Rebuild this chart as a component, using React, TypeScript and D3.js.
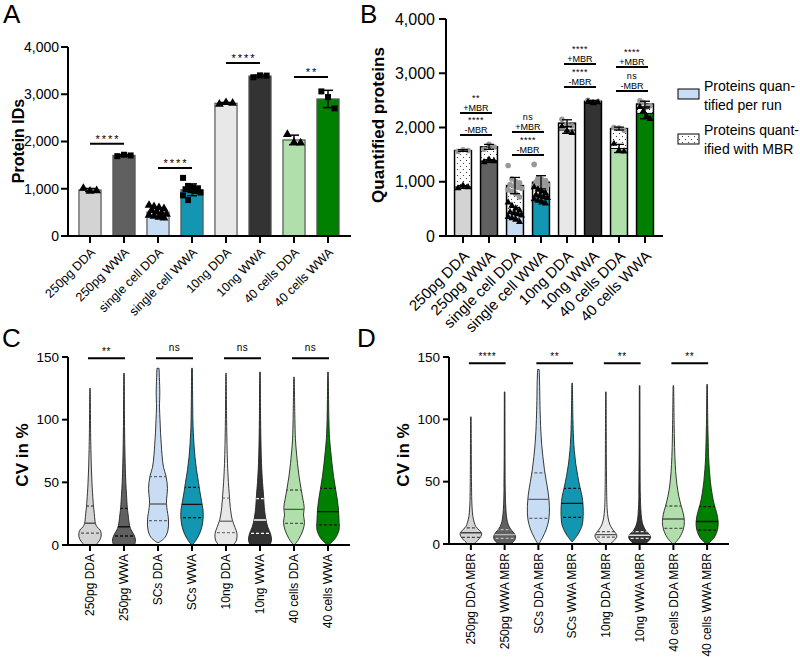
import React from 'react';
import * as d3 from 'd3';

const FONT = "'Liberation Sans', Arial, Helvetica, sans-serif";

// ---------- Panel A data ----------
const catsA = ['250pg DDA', '250pg WWA', 'single cell DDA', 'single cell WWA', '10ng DDA', '10ng WWA', '40 cells  DDA', '40 cells WWA'];
const fills = ['#d3d3d3', '#606060', '#c8dcf4', '#1296b2', '#e8e8e8', '#333333', '#b0dfab', '#008000'];
const ptsA_250pgDDA = [1010, 950, 960];
const ptsA_250pgWWA = [1690, 1720, 1705];
const ptsA_scDDA = [650, 620, 600, 580, 540, 510, 480, 460, 440, 420, 400, 380];
const ptsA_scWWA = [1230, 1060, 1030, 1010, 990, 970, 950, 920, 860, 760];
const ptsA_10ngDDA = [2790, 2825, 2810];
const ptsA_10ngWWA = [3360, 3400, 3395];
const ptsA_40DDA = [2150, 1980, 1970];
const ptsA_40WWA = [3060, 2940, 2700];
const pointsA = [ptsA_250pgDDA, ptsA_250pgWWA, ptsA_scDDA, ptsA_scWWA, ptsA_10ngDDA, ptsA_10ngWWA, ptsA_40DDA, ptsA_40WWA];
const ticksAB = [0, 1000, 2000, 3000, 4000];
const sigA = [
  { a: 0, b: 1, y: 1950, label: '****' },
  { a: 2, b: 3, y: 1440, label: '****' },
  { a: 4, b: 5, y: 3660, label: '****' },
  { a: 6, b: 7, y: 3365, label: '**' },
];

// ---------- Panel B data ----------
const catsB = ['250pg DDA', '250pg WWA', 'single cell DDA', 'single cell WWA', '10ng DDA', '10ng WWA', '40 cells DDA', '40 cells WWA'];
const totB_250pgDDA = [1560, 1590, 1575];
const runB_250pgDDA = [880, 930, 900];
const totB_250pgWWA = [1600, 1690, 1640];
const runB_250pgWWA = [1360, 1410, 1380];
const totB_scDDA = [1300, 1050, 1000, 980, 950, 920, 900, 880, 850, 820, 780, 720];
const runB_scDDA = [620, 560, 510, 470, 440, 420, 400, 380, 350, 330, 300, 260];
const totB_scWWA = [1320, 1060, 1040, 1020, 1000, 980, 960, 940, 920, 900, 880, 860];
const runB_scWWA = [900, 860, 820, 790, 760, 740, 720, 700, 680, 650, 620, 600];
const totB_10ngDDA = [2150, 2060, 2030];
const runB_10ngDDA = [2020, 1940, 1900];
const totB_10ngWWA = [2500, 2470, 2480];
const runB_10ngWWA = [2470, 2450, 2460];
const totB_40DDA = [2000, 1990, 1950];
const runB_40DDA = [1700, 1580, 1560];
const totB_40WWA = [2490, 2460, 2380, 2400];
const runB_40WWA = [2380, 2300, 2200, 2160];
const totalsB = [totB_250pgDDA, totB_250pgWWA, totB_scDDA, totB_scWWA, totB_10ngDDA, totB_10ngWWA, totB_40DDA, totB_40WWA];
const runsB = [runB_250pgDDA, runB_250pgWWA, runB_scDDA, runB_scWWA, runB_10ngDDA, runB_10ngWWA, runB_40DDA, runB_40WWA];
const sigB = [
  { a: 0, b: 1, plusY: 2267, plus: '**', minusY: 1862, minus: '****' },
  { a: 2, b: 3, plusY: 1917, plus: 'ns', minusY: 1493, minus: '****' },
  { a: 4, b: 5, plusY: 3170, plus: '****', minusY: 2746, minus: '****' },
  { a: 6, b: 7, plusY: 3115, plus: '****', minusY: 2673, minus: 'ns' },
];
const legendLines1 = ['Proteins quan-', 'tified per run'];
const legendLines2 = ['Proteins quant-', 'ified with MBR'];

// ---------- Panel C data (violin profiles: [CV %, half width]) ----------
const catsC = ['250pg DDA', '250pg WWA', 'SCs DDA', 'SCs WWA', '10ng DDA', '10ng WWA', '40 cells DDA', '40 cells WWA'];
const vC_250pgDDA = [[0, 6], [1.5, 7.5], [5, 10.5], [9, 11.2], [12, 10], [14.5, 7], [17, 5.5], [25, 4.3], [31, 3.5], [36, 3], [49, 2], [63, 1.3], [76, 0.9], [90, 0.6], [125, 0.3]];
const vC_250pgWWA = [[0, 10.5], [4, 11.5], [8, 10], [13, 6.5], [17, 5.3], [25, 4], [30, 3.3], [40, 2.5], [50, 1.8], [65, 1.2], [80, 0.8], [100, 0.5], [137, 0.3]];
const vC_scDDA = [[2, 0.8], [6, 7], [12, 10], [20, 10.5], [30, 8.8], [36, 8.5], [45, 9.5], [55, 8], [62, 5.5], [72, 4], [80, 3.3], [90, 2.5], [100, 2], [110, 1.5], [122, 1.8], [141, 1]];
const vC_scWWA = [[0, 0.3], [5, 5], [12, 9], [20, 11], [28, 11], [35, 9.5], [42, 8], [50, 6.5], [60, 4.5], [70, 3], [80, 2], [90, 1.3], [100, 0.9], [141, 0.4]];
const vC_10ngDDA = [[0, 7.5], [4, 10.5], [9, 11], [14, 9], [20, 6.3], [30, 4.3], [40, 3.3], [50, 2.4], [65, 1.5], [80, 1], [100, 0.6], [137, 0.3]];
const vC_10ngWWA = [[0, 10], [4, 11.5], [9, 10.5], [14, 8], [20, 6], [30, 4.3], [40, 3.5], [50, 2.5], [65, 1.5], [80, 1], [100, 0.6], [138, 0.3]];
const vC_40DDA = [[0, 0.5], [5, 5], [12, 9], [18, 10.5], [24, 9.5], [30, 10.2], [36, 9], [45, 7], [55, 5], [65, 3.5], [75, 2.3], [85, 1.4], [100, 0.9], [134, 0.3]];
const vC_40WWA = [[0, 0.5], [5, 7], [12, 11], [20, 11], [28, 10.5], [35, 9.5], [45, 7.5], [55, 5.5], [65, 4], [75, 2.7], [85, 1.6], [100, 0.9], [138, 0.3]];
const profilesC = [vC_250pgDDA, vC_250pgWWA, vC_scDDA, vC_scWWA, vC_10ngDDA, vC_10ngWWA, vC_40DDA, vC_40WWA];
const q1C = [9.5, 7.2, 19.4, 21.8, 9.8, 9.3, 17.3, 16];
const medC = [17.3, 14.6, 32.7, 32.4, 19, 19.9, 28.4, 26.6];
const q3C = [31.1, 29.2, 54.5, 46, 37.4, 37, 43.9, 45.2];
const lineColC = ['#555', '#111', '#666', '#111', '#777', '#fff', '#555', '#111'];
const sigC = [
  { a: 0, b: 1, y: 149, label: '**' },
  { a: 2, b: 3, y: 149, label: 'ns' },
  { a: 4, b: 5, y: 149, label: 'ns' },
  { a: 6, b: 7, y: 149, label: 'ns' },
];
const ticksCD = [0, 50, 100, 150];

// ---------- Panel D data ----------
const catsD = ['250pg DDA MBR', '250pg WWA MBR', 'SCs DDA MBR', 'SCs WWA MBR', '10ng DDA MBR', '10ng WWA MBR', '40 cells DDA MBR', '40 cells WWA MBR'];
const vD_250pgDDA = [[0, 3], [3, 7], [6, 10], [8.5, 10.8], [11, 8.5], [14, 5], [17, 3.5], [22, 2], [28, 1.3], [35, 0.9], [50, 0.6], [102, 0.3]];
const vD_250pgWWA = [[0, 6], [2, 9], [5, 11], [8, 10], [11, 7], [14, 4.5], [18, 2.7], [24, 1.6], [32, 1], [45, 0.6], [122, 0.3]];
const vD_scDDA = [[0, 0.5], [5, 4], [12, 8], [20, 10.5], [30, 11], [40, 10], [50, 8], [60, 6], [70, 4.5], [80, 3.3], [90, 2.5], [100, 2], [115, 1.5], [130, 1.2], [140, 0.8]];
const vD_scWWA = [[2, 0.5], [8, 6], [15, 10], [22, 11], [30, 11], [38, 10], [45, 8], [55, 5.5], [65, 3.5], [75, 2.2], [85, 1.4], [100, 0.8], [129, 0.3]];
const vD_10ngDDA = [[0, 4], [3, 8.5], [6.5, 11], [9, 9.5], [12, 6.5], [16, 3.8], [21, 2.2], [28, 1.3], [40, 0.8], [122, 0.3]];
const vD_10ngWWA = [[0, 5], [2.5, 9], [5.5, 11], [8, 9.5], [11, 6], [15, 3.5], [20, 2], [28, 1.2], [40, 0.7], [127, 0.3]];
const vD_40DDA = [[0, 0.5], [5, 6], [12, 10], [18, 11], [24, 10], [30, 8], [38, 5.5], [48, 3.5], [58, 2.3], [70, 1.5], [85, 1], [100, 0.7], [127, 0.3]];
const vD_40WWA = [[0, 0.5], [5, 7], [12, 10.5], [18, 11], [25, 9.5], [32, 7], [40, 5], [50, 3.3], [60, 2.2], [70, 1.5], [85, 1], [100, 0.6], [128, 0.3]];
const profilesD = [vD_250pgDDA, vD_250pgWWA, vD_scDDA, vD_scWWA, vD_10ngDDA, vD_10ngWWA, vD_40DDA, vD_40WWA];
const q1D = [5.3, 4.5, 20.6, 21.3, 5.5, 4.5, 12.5, 11.2];
const medD = [9, 7.5, 35.8, 32.6, 7.5, 7, 20, 18];
const q3D = [13, 11.5, 57, 44.6, 10, 10, 30.5, 30];
const lineColD = ['#444', '#bbb', '#666', '#111', '#555', '#ddd', '#555', '#111'];
const sigD = [
  { a: 0, b: 1, y: 145, label: '****' },
  { a: 2, b: 3, y: 145, label: '**' },
  { a: 4, b: 5, y: 145, label: '**' },
  { a: 6, b: 7, y: 145, label: '**' },
];

const fmt = d3.format(',');

function jitter(i: number, n: number, w: number) {
  if (n <= 1) return 0;
  if (n <= 4) return (i / (n - 1) - 0.5) * w * 0.6;
  const cols = 4;
  const c = i % cols;
  const r = Math.floor(i / cols);
  return ((c + (r % 2) * 0.5) / cols - 0.45) * w * 0.9;
}

function ErrBar({ cx, y1, y2, cap, sw = 1.5, color = '#000' }: any) {
  return (
    <g stroke={color} strokeWidth={sw}>
      <line x1={cx} x2={cx} y1={y1} y2={y2} />
      <line x1={cx - cap} x2={cx + cap} y1={y1} y2={y1} />
      <line x1={cx - cap} x2={cx + cap} y1={y2} y2={y2} />
    </g>
  );
}

function PanelA() {
  const x = d3.scaleBand<string>().domain(catsA).range([73, 345]).paddingInner(0.35).paddingOuter(0.175);
  const y = d3.scaleLinear().domain([0, 4000]).range([236, 47]);
  const bw = x.bandwidth();
  const tri = d3.symbol().type(d3.symbolTriangle).size(34)() as string;
  const sq = d3.symbol().type(d3.symbolSquare).size(36)() as string;
  return (
    <g>
      {catsA.map((c, i) => {
        const vals = pointsA[i];
        const m = d3.mean(vals) as number;
        const sd = d3.deviation(vals) as number;
        const cx = (x(c) as number) + bw / 2;
        return (
          <g key={c}>
            <rect x={x(c)} y={y(m)} width={bw} height={y(0) - y(m)} fill={fills[i]} stroke="#555" strokeWidth={1.2} />
            <ErrBar cx={cx} y1={y(m + sd)} y2={y(m - sd)} cap={5} sw={1.5} />
            {vals.map((v, k) => (
              <path key={k} d={i % 2 === 0 ? tri : sq} transform={`translate(${cx + jitter(k, vals.length, bw)},${y(v)})`} fill="#000" />
            ))}
          </g>
        );
      })}
      {/* axes */}
      <line x1={68} x2={68} y1={y(4000)} y2={y(0) + 1} stroke="#000" strokeWidth={2} />
      <line x1={67} x2={351} y1={y(0)} y2={y(0)} stroke="#000" strokeWidth={2} />
      {ticksAB.map((t) => (
        <g key={t}>
          <line x1={61} x2={68} y1={y(t)} y2={y(t)} stroke="#000" strokeWidth={2} />
          <text x={59} y={y(t)} dy="0.35em" textAnchor="end" fontSize={14} fill="#000">{fmt(t)}</text>
        </g>
      ))}
      {catsA.map((c) => {
        const cx = (x(c) as number) + bw / 2;
        return (
          <g key={c}>
            <line x1={cx} x2={cx} y1={y(0)} y2={y(0) + 7} stroke="#000" strokeWidth={2} />
            <text transform={`translate(${cx + 6},${y(0) + 17}) rotate(-45)`} textAnchor="end" fontSize={12.5} fill="#000">{c}</text>
          </g>
        );
      })}
      {sigA.map((s, k) => {
        const xa = (x(catsA[s.a]) as number) + bw / 2;
        const xb = (x(catsA[s.b]) as number) + bw / 2;
        return (
          <g key={k}>
            <line x1={xa} x2={xb} y1={y(s.y)} y2={y(s.y)} stroke="#000" strokeWidth={2} />
            <text x={(xa + xb) / 2 + 1} y={y(s.y) - 1} textAnchor="middle" fontSize={11} letterSpacing={2} fill="#000">{s.label}</text>
          </g>
        );
      })}
      <text transform={`translate(24,141) rotate(-90)`} textAnchor="middle" fontSize={16} fontWeight="bold" fill="#000">Protein IDs</text>
      <text x={3} y={23} fontSize={26} fill="#000">A</text>
    </g>
  );
}

function SigLabel({ x, lineY, top, bottom }: any) {
  return (
    <g>
      <text x={x} y={lineY - 12} textAnchor="middle" fontSize={9} letterSpacing={0.5} fill="#000">{top}</text>
      <text x={x} y={lineY - 2} textAnchor="middle" fontSize={9} fill="#000">{bottom}</text>
    </g>
  );
}

function PanelB() {
  const x = d3.scaleBand<string>().domain(catsB).range([450, 658]).paddingInner(0.35).paddingOuter(0.175);
  const y = d3.scaleLinear().domain([0, 4000]).range([236, 19]);
  const bw = x.bandwidth();
  const tri = d3.symbol().type(d3.symbolTriangle).size(22)() as string;
  return (
    <g>
      {catsB.map((c, i) => {
        const tot = totalsB[i];
        const run = runsB[i];
        const mt = d3.mean(tot) as number;
        const mr = d3.mean(run) as number;
        const st = d3.deviation(tot) as number;
        const sr = d3.deviation(run) as number;
        const bx = x(c) as number;
        const cx = bx + bw / 2;
        return (
          <g key={c}>
            <rect x={bx} y={y(mr)} width={bw} height={y(0) - y(mr)} fill={fills[i]} />
            <rect x={bx} y={y(mt)} width={bw} height={y(mr) - y(mt)} fill="url(#dots)" />
            <line x1={bx} x2={bx + bw} y1={y(mr)} y2={y(mr)} stroke="#000" strokeWidth={1} />
            <rect x={bx} y={y(mt)} width={bw} height={y(0) - y(mt)} fill="none" stroke="#000" strokeWidth={1.5} />
            {tot.map((v, k) => (
              <circle key={k} cx={cx + jitter(k, tot.length, bw)} cy={y(v)} r={2.8} fill="#999" />
            ))}
            <ErrBar cx={cx} y1={y(mt + st)} y2={y(mt - st)} cap={5} sw={1.3} />
            {run.map((v, k) => (
              <path key={k} d={tri} transform={`translate(${cx + jitter(k, run.length, bw)},${y(v)})`} fill="#000" />
            ))}
            <ErrBar cx={cx} y1={y(mr + sr)} y2={y(mr - sr)} cap={5} sw={1.3} />
          </g>
        );
      })}
      <line x1={446} x2={446} y1={y(4000)} y2={y(0) + 1} stroke="#000" strokeWidth={2} />
      <line x1={445} x2={663} y1={y(0)} y2={y(0)} stroke="#000" strokeWidth={2} />
      {ticksAB.map((t) => (
        <g key={t}>
          <line x1={439} x2={446} y1={y(t)} y2={y(t)} stroke="#000" strokeWidth={2} />
          <text x={435} y={y(t)} dy="0.35em" textAnchor="end" fontSize={16} fill="#000">{fmt(t)}</text>
        </g>
      ))}
      {catsB.map((c) => {
        const cx = (x(c) as number) + bw / 2;
        return (
          <g key={c}>
            <line x1={cx} x2={cx} y1={y(0)} y2={y(0) + 7} stroke="#000" strokeWidth={2} />
            <text transform={`translate(${cx + 7},${y(0) + 21}) rotate(-45)`} textAnchor="end" fontSize={15} fill="#000">{c}</text>
          </g>
        );
      })}
      {sigB.map((s, k) => {
        const xa = (x(catsB[s.a]) as number) + bw / 2 - 3;
        const xb = (x(catsB[s.b]) as number) + bw / 2 + 3;
        const mid = (xa + xb) / 2;
        return (
          <g key={k}>
            <line x1={xa} x2={xb} y1={y(s.plusY)} y2={y(s.plusY)} stroke="#000" strokeWidth={2} />
            <SigLabel x={mid} lineY={y(s.plusY)} top={s.plus} bottom="+MBR" />
            <line x1={xa} x2={xb} y1={y(s.minusY)} y2={y(s.minusY)} stroke="#000" strokeWidth={2} />
            <SigLabel x={mid} lineY={y(s.minusY)} top={s.minus} bottom="-MBR" />
          </g>
        );
      })}
      <text transform={`translate(384,125) rotate(-90)`} textAnchor="middle" fontSize={17} fontWeight="bold" fill="#000">Quantified proteins</text>
      <text x={360} y={23} fontSize={26} fill="#000">B</text>
      {/* legend */}
      <rect x={678} y={89} width={21} height={10} fill={fills[2]} stroke="#000" strokeWidth={1} />
      {legendLines1.map((t, k) => (
        <text key={t} x={704} y={86 + k * 19} dy="0.35em" fontSize={14} fill="#000">{t}</text>
      ))}
      <rect x={678} y={134} width={21} height={10} fill="url(#dots)" stroke="#000" strokeWidth={1} />
      {legendLines2.map((t, k) => (
        <text key={t} x={704} y={130.5 + k * 19} dy="0.35em" fontSize={14} fill="#000">{t}</text>
      ))}
    </g>
  );
}

function ViolinPanel(props: any) {
  const { id, cats, profiles, q1, med, q3, lineCols, sig, xRange, yRange, axisX, axisEnd, tickLabelX, title, titleX, letter, letterX, letterY } = props;
  const x = d3.scaleBand<string>().domain(cats).range(xRange).paddingInner(0.35).paddingOuter(0.175);
  const y = d3.scaleLinear().domain([0, 150]).range(yRange);
  const w = d3.scaleLinear().domain([0, 11.5]).range([0, 11.5]);
  const bw = x.bandwidth();
  const y0 = y(0);
  return (
    <g>
      {cats.map((c: string, i: number) => {
        const cx = (x(c) as number) + bw / 2;
        const area = d3.area<number[]>()
          .y((d) => y(d[0]))
          .x0((d) => cx - w(d[1]))
          .x1((d) => cx + w(d[1]))
          .curve(d3.curveCatmullRom.alpha(0.5));
        const dPath = area(profiles[i]) as string;
        const cid = `${id}-clip-${i}`;
        return (
          <g key={c}>
            <clipPath id={cid}><path d={dPath} /></clipPath>
            <path d={dPath} fill={fills[i]} stroke="#222" strokeWidth={0.9} />
            <g clipPath={`url(#${cid})`} stroke={lineCols[i]}>
              <line x1={cx - 14} x2={cx + 14} y1={y(med[i])} y2={y(med[i])} strokeWidth={1.4} />
              <line x1={cx - 14} x2={cx + 14} y1={y(q1[i])} y2={y(q1[i])} strokeWidth={1.3} strokeDasharray="3,2" />
              <line x1={cx - 14} x2={cx + 14} y1={y(q3[i])} y2={y(q3[i])} strokeWidth={1.3} strokeDasharray="3,2" />
            </g>
          </g>
        );
      })}
      <line x1={axisX} x2={axisX} y1={y(150)} y2={y0 + 1} stroke="#000" strokeWidth={2} />
      <line x1={axisX - 1} x2={axisEnd} y1={y0} y2={y0} stroke="#000" strokeWidth={2} />
      {ticksCD.map((t) => (
        <g key={t}>
          <line x1={axisX - 6} x2={axisX} y1={y(t)} y2={y(t)} stroke="#000" strokeWidth={2} />
          <text x={tickLabelX} y={y(t)} dy="0.35em" textAnchor="end" fontSize={13.5} fill="#000">{t}</text>
        </g>
      ))}
      {cats.map((c: string) => {
        const cx = (x(c) as number) + bw / 2;
        return (
          <g key={c}>
            <line x1={cx} x2={cx} y1={y0} y2={y0 + 6} stroke="#000" strokeWidth={2} />
            <text transform={`translate(${cx},${y0 + 9}) rotate(-90)`} dy="0.35em" textAnchor="end" fontSize={12} fill="#000">{c}</text>
          </g>
        );
      })}
      {sig.map((s: any, k: number) => {
        const xa = (x(cats[s.a]) as number) + bw / 2 - 2;
        const xb = (x(cats[s.b]) as number) + bw / 2 + 1;
        return (
          <g key={k}>
            <line x1={xa} x2={xb} y1={y(s.y)} y2={y(s.y)} stroke="#000" strokeWidth={2} />
            <text x={(xa + xb) / 2} y={y(s.y) - (s.label === 'ns' ? 7 : 3)} textAnchor="middle" fontSize={10} letterSpacing={0.5} fill="#000">{s.label}</text>
          </g>
        );
      })}
      <text transform={`translate(${titleX},455) rotate(-90)`} textAnchor="middle" fontSize={17} fontWeight="bold" fill="#000">{title}</text>
      <text x={letterX} y={letterY} fontSize={26} fill="#000">{letter}</text>
    </g>
  );
}

export default function App() {
  return (
    <svg width={800} height={657} style={{ position: 'absolute', left: 0, top: 0, background: '#fff' }} fontFamily={FONT}>
      <defs>
        <pattern id="dots" width="6" height="6" patternUnits="userSpaceOnUse">
          <rect width="6" height="6" fill="#fff" />
          <circle cx="1.5" cy="1.5" r="0.6" fill="#222" />
          <circle cx="4.5" cy="4.5" r="0.6" fill="#222" />
        </pattern>
      </defs>
      <PanelA />
      <PanelB />
      <ViolinPanel id="c" cats={catsC} profiles={profilesC} q1={q1C} med={medC} q3={q3C} lineCols={lineColC} sig={sigC}
        xRange={[73, 345]} yRange={[545, 357]} axisX={68} axisEnd={350} tickLabelX={59} title="CV in %" titleX={28}
        letter="C" letterX={2} letterY={347} />
      <ViolinPanel id="d" cats={catsD} profiles={profilesD} q1={q1D} med={medD} q3={q3D} lineCols={lineColD} sig={sigD}
        xRange={[454, 724]} yRange={[544, 357]} axisX={449} axisEnd={729} tickLabelX={440} title="CV in %" titleX={409}
        letter="D" letterX={357} letterY={347} />
    </svg>
  );
}
